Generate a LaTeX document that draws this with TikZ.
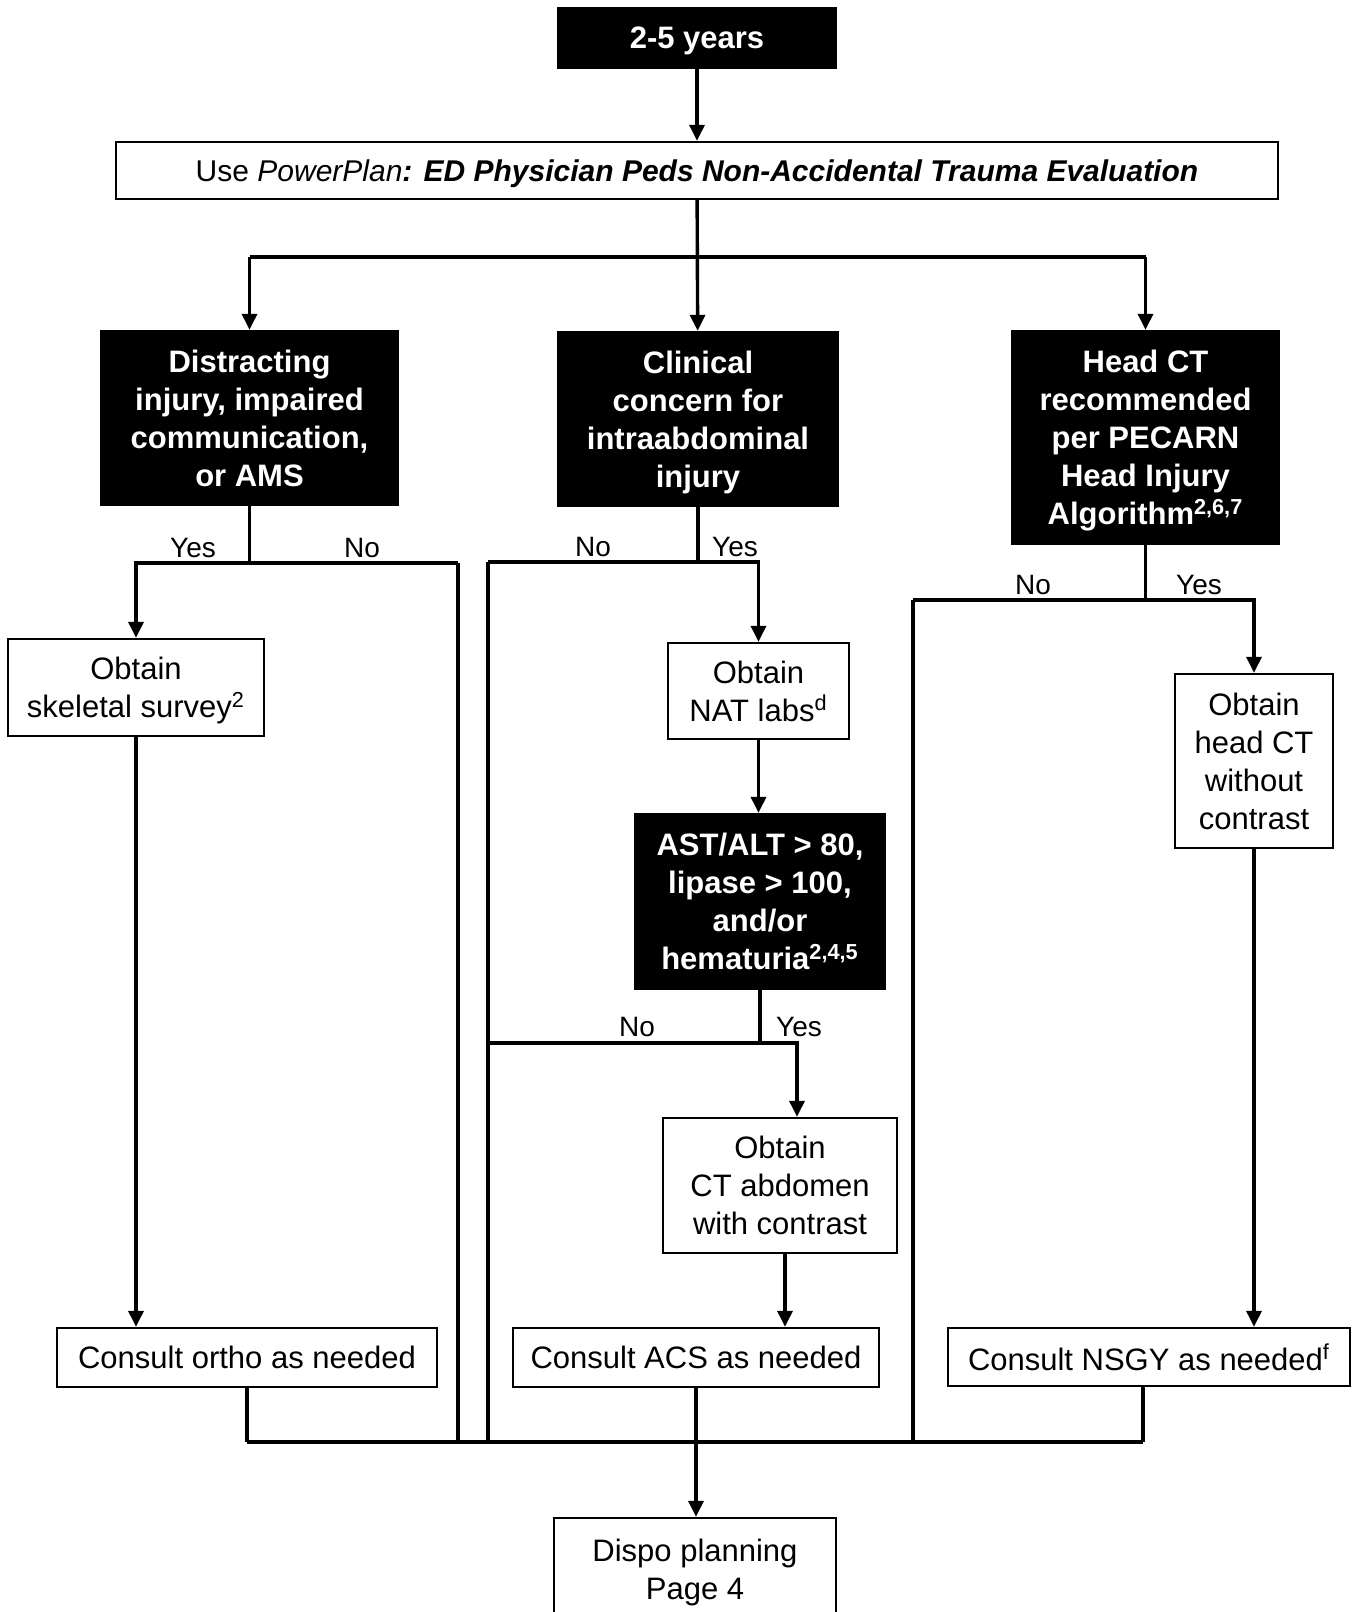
\documentclass[tikz,border=0pt]{standalone}
\usepackage{fontspec}
\setmainfont{Liberation Sans}
\usetikzlibrary{arrows.meta}
\newcommand\bxfont{\fontsize{15.5pt}{19pt}\selectfont}
\newcommand\ppfont{\fontsize{15pt}{18pt}\selectfont}
\newcommand\lbfont{\fontsize{14pt}{16pt}\selectfont}
\tikzset{
  ln/.style={line width=1.7pt},
  barln/.style={line width=2.4pt},
  arr/.style={line width=1.7pt,-{Triangle[length=8pt,width=7.5pt]}},
  wbox/.style={draw, line width=1.2pt, fill=white, inner sep=0pt, align=center, font=\bxfont, text depth=0pt},
  bbox/.style={draw, line width=1.2pt, fill=black, text=white, inner sep=0pt, align=center, font=\bxfont\bfseries, text depth=0pt},
  sz/.style 2 args={minimum width=#1*0.5pt, minimum height=#2*0.5pt},
  lab/.style={inner sep=0pt, font=\lbfont}
}
\begin{document}
\begin{tikzpicture}[x=0.5pt,y=-0.5pt]
\useasboundingbox (0,0) rectangle (1356,1612);
\clip (0,0) rectangle (1356,1612);
\fill[white] (0,0) rectangle (1356,1612);

% nodes
\node[bbox, sz={278}{60}] (top) at (697,38) {2-5 years};
\node[wbox, sz={1162}{57}, font=\ppfont] (pp) at (697,170.5) {Use \textit{PowerPlan}\textbf{\textit{: ED Physician Peds Non-Accidental Trauma Evaluation}}};
\node[bbox, sz={297}{174}] (dist) at (249.5,418) {Distracting\\injury, impaired\\communication,\\or AMS};
\node[bbox, sz={280}{174}] (clin) at (698,419) {Clinical\\concern for\\intraabdominal\\injury};
\node[bbox, sz={267}{213}] (head) at (1145.5,437.5) {Head CT\\recommended\\per PECARN\\Head Injury\\Algorithm\textsuperscript{2,6,7}};
\node[wbox, sz={256}{97}] (skel) at (136,687.5) {Obtain\\skeletal survey\textsuperscript{2}};
\node[wbox, sz={181}{96}] (nat) at (758.5,691) {Obtain\\NAT labs\textsuperscript{d}};
\node[wbox, sz={158}{174}] (hct) at (1254,761) {Obtain\\head CT\\without\\contrast};
\node[bbox, sz={250}{175}] (ast) at (760,901.5) {AST/ALT > 80,\\lipase > 100,\\and/or\\hematuria\textsuperscript{2,4,5}};
\node[wbox, sz={234}{135}] (ctab) at (780,1185.5) {Obtain\\CT abdomen\\with contrast};
\node[wbox, sz={380}{59}] (ortho) at (247,1357.5) {Consult ortho as needed};
\node[wbox, sz={366}{59}] (acs) at (696,1357.5) {Consult ACS as needed};
\node[wbox, sz={402}{58}] (nsgy) at (1149,1357) {Consult NSGY as needed\textsuperscript{f}};
\node[wbox, sz={282}{102}] (dispo) at (695,1569) {Dispo planning\\Page 4};

% helper coordinates
\coordinate (ys) at (0,257);
\coordinate (yd) at (0,563);
\coordinate (yc) at (0,562);
\coordinate (yh) at (0,600);
\coordinate (ya) at (0,1043);
\coordinate (yb) at (0,1442);
\coordinate (xdR) at (458,0);
\coordinate (xcL) at (488,0);
\coordinate (xhL) at (913,0);
\coordinate (xa) at (797,0);
\coordinate (xb) at (785,0);
\coordinate (xn) at (1143,0);

% top
\draw[arr] (top) -- (pp);
\draw[arr] (pp) -- (clin);
\draw[ln] (dist.north |- ys) -- (head.north |- ys);
\draw[arr] (dist.north |- ys) -- (dist);
\draw[arr] (head.north |- ys) -- (head);

% distracting branch
\draw[ln] (dist) -- (dist.south |- yd);
\draw[arr] (xdR |- yd) -| (skel);
\draw[ln] (xdR |- yd) -- (xdR |- yb);
\draw[arr] (skel.south) -- (skel.south |- ortho.north);
\draw[ln] (ortho) -- (ortho.south |- yb);

% clinical branch
\draw[ln] (clin) -- (clin.south |- yc);
\draw[arr] (xcL |- yc) -| (nat);
\draw[ln] (xcL |- yc) -- (xcL |- yb);
\draw[arr] (nat) -- (nat.south |- ast.north);
\draw[ln] (ast) -- (ast.south |- ya);
\draw[arr] (xcL |- ya) -| (xa |- ctab.north);
\draw[arr] (xb |- ctab.south) -- (xb |- acs.north);
\draw[arr] (acs) -- (acs.south |- dispo.north);

% head branch
\draw[ln] (head) -- (head.south |- yh);
\draw[arr] (xhL |- yh) -| (hct);
\draw[ln] (xhL |- yh) -- (xhL |- yb);
\draw[arr] (hct.south) -- (hct.south |- nsgy.north);
\draw[ln] (xn |- nsgy.south) -- (xn |- yb);

% bottom bar
\draw[barln] (ortho.south |- yb) -- (xn |- yb);

% labels
\node[lab] (l1) at (193,548) {Yes};
\node[lab] (l2) at (362,548) {No};
\node[lab] (l3) at (593,547) {No};
\node[lab] (l4) at (735,547) {Yes};
\node[lab] (l5) at (1033,585) {No};
\node[lab] (l6) at (1199,585) {Yes};
\node[lab] (l7) at (637,1027) {No};
\node[lab] (l8) at (799,1027) {Yes};
\end{tikzpicture}
\end{document}
